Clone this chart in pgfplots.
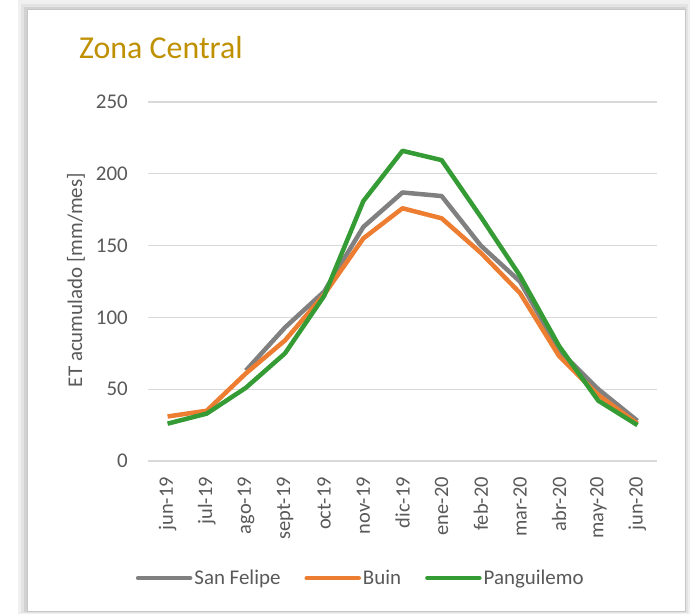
\documentclass[border=0pt]{standalone}
\usepackage{fontspec}
\setmainfont{Carlito}
\usepackage{pgfplots}
\pgfplotsset{compat=1.18}
\definecolor{sfgray}{RGB}{128,128,128}
\definecolor{buinorange}{RGB}{237,125,49}
\definecolor{pangreen}{RGB}{53,155,52}
\definecolor{gridgray}{RGB}{217,217,217}
\definecolor{labgray}{RGB}{89,89,89}
\definecolor{titlegold}{RGB}{191,144,0}

\begin{document}
\begin{tikzpicture}
\useasboundingbox (0,0) rectangle (692bp,614bp);
% shadow and card
\fill[white] (0,0) rectangle (692bp,614bp);
\fill[gray!12] (18bp,0bp) rectangle (690bp,614bp);
\fill[gray!22] (21bp,1bp) rectangle (688bp,610bp);
\fill[gray!35] (24bp,2bp) rectangle (686bp,607bp);
\fill[white,draw=gray!45,line width=1bp] (27bp,2bp) rectangle (685bp,604bp);
\node[anchor=base west,text=titlegold,font=\fontsize{32}{37}\selectfont,inner sep=0pt]
  at (79bp,555bp) {Zona Central};

\begin{axis}[
  at={(148bp,153bp)},anchor=south west,
  scale only axis,width=509bp,height=359bp,
  xmin=-0.5,xmax=12.5,ymin=0,ymax=250,
  xtick={0,...,12},
  xticklabels={jun-19,jul-19,ago-19,sept-19,oct-19,nov-19,dic-19,ene-20,feb-20,mar-20,abr-20,may-20,jun-20},
  xticklabel style={yshift=-16bp,rotate=90,anchor=east,font=\fontsize{20.5}{25}\selectfont,text=labgray,inner sep=0pt},
  ytick={0,50,...,250},
  yticklabel style={xshift=-20bp,font=\fontsize{21}{25}\selectfont,text=labgray,inner sep=0pt},
  /pgf/number format/assume math mode=true,
  major tick length=0pt,
  axis line style={draw=none},
  ymajorgrids,
  grid style={color=gridgray,line width=1.3bp},
  ylabel={ET acumulado [mm/mes]},
  ylabel style={at={(axis description cs:-0.1415,0.504)},anchor=center,rotate=0,font=\fontsize{21}{25}\selectfont,text=labgray},
  legend columns=3,
  legend style={at={(axis description cs:0.418,-0.326)},anchor=center,draw=none,fill=none,
    font=\fontsize{21}{25}\selectfont,text=labgray,
    /tikz/every even column/.append style={column sep=22bp},
    nodes={inner sep=2bp}},
  legend image code/.code={\draw[line width=4.5bp,line cap=round] (0bp,0bp) -- (52bp,0bp);},
  every axis plot/.append style={line width=4.5bp,line join=round},
]
\addplot[sfgray] coordinates {
  (2,63)(3,93)(4,118)(5,163)(6,187)(7,184.5)(8,150)(9,125)(10,77)(11,50)(12,28)};
\addlegendentry{San Felipe}
\addplot[buinorange] coordinates {
  (0,31)(1,35)(2,61)(3,84)(4,116)(5,155)(6,176)(7,169)(8,145)(9,117)(10,73)(11,46)(12,26)};
\addlegendentry{Buin}
\addplot[pangreen] coordinates {
  (0,26)(1,33)(2,51)(3,75)(4,115)(5,181)(6,216)(7,209.5)(8,170)(9,129)(10,80)(11,42)(12,25)};
\addlegendentry{Panguilemo}
\end{axis}
\end{tikzpicture}
\end{document}
